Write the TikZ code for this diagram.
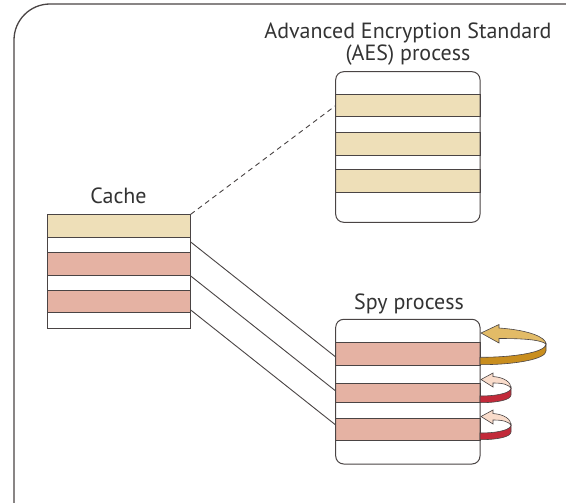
\documentclass[tikz,border=0pt]{standalone}
\usepackage{fontspec}
\setmainfont{PT Sans}
\usetikzlibrary{calc}
\definecolor{aesbeige}{HTML}{EEDFB8}
\definecolor{spypink}{HTML}{E5B2A3}
\definecolor{edgegray}{HTML}{4A4444}
\definecolor{goldlight}{HTML}{E2BB67}
\definecolor{golddark}{HTML}{C98E1E}
\definecolor{redlight}{HTML}{F9DCCB}
\definecolor{reddark}{HTML}{C22A3A}
\tikzset{
    band/.style={draw=edgegray, line width=1pt, inner sep=0pt, outer sep=0pt,
        minimum width=144.3pt, anchor=north west},
    procbox/.style={band, draw=none, rounded corners=8pt},
    bigloop/.pic={
        % Light top face with the head
        \fill[goldlight, draw=edgegray, line width=0.6pt] (0,0) -- (18,-8.5) -- (18,-5)
            .. controls (47,-3) and (65,4) .. (65,11)
            .. controls (60,7) and (45,5.5) .. (18,5.5) -- (18,10) -- cycle;
        % Dark outer face
        \fill[golddark, draw=edgegray, line width=0.6pt] (-1,24.3)
            .. controls (35,24.3) and (65,19) .. (65,11) -- (65,18)
            .. controls (65,26) and (35,31.7) .. (-1,31.7) -- cycle;
    },
    smallloop/.pic={
        % Light top face with the head
        \fill[redlight, draw=edgegray, line width=0.6pt] (0,0) -- (12,-6.5) -- (12,-3)
            .. controls (24,-2) and (30,3) .. (30,8.5)
            .. controls (27,5) and (22,3.5) .. (12,3.5) -- (12,7.5) -- cycle;
        % Dark outer face
        \fill[reddark, draw=edgegray, line width=0.6pt] (-1,16.5)
            .. controls (18,16.5) and (30,13) .. (30,8.5) -- (30,15.5)
            .. controls (30,20) and (18,23.2) .. (-1,23.2) -- cycle;
    }
}
\begin{document}
\begin{tikzpicture}[x=1pt, y=-1pt, font=\fontsize{22}{22}\selectfont, text=black!80]
    \useasboundingbox (0,0) rectangle (566,503);
    % Frame
    \draw[edgegray, line width=1.3pt, rounded corners=36pt] (14,503) -- (14,4) -- (566,4);

    % Cache
    \node[band, minimum width=143.4pt, minimum height=114pt] (cache) at (47.3,214.3) {};
    \foreach \i/\t/\h/\c in {1/214.3/23/aesbeige, 2/252.7/22.3/spypink, 3/290/22.3/spypink}
        \node[band, minimum width=143.4pt, minimum height=\h, fill=\c] (cache\i) at (47.3,\t) {};
    \node (cachelabel) at (118.5,196) {Cache};

    % AES process
    \node[procbox, minimum height=150.6pt] (aes) at (335.7,71.7) {};
    \foreach \i/\t in {1/94.3, 2/132.7, 3/170}
        \node[band, minimum height=22.5pt, fill=aesbeige] (aes\i) at (335.7,\t) {};
    \draw[edgegray, line width=1pt, rounded corners=8pt] (aes.north west) rectangle (aes.south east);
    \node[align=center] (aeslabel) at (408,44) {Advanced Encryption Standard\\(AES) process};

    % Spy process
    \node[procbox, minimum height=144.7pt] (spy) at (335.7,319.3) {};
    \foreach \i/\t/\h in {1/342.3/23, 2/383.3/19.4, 3/418.3/21.7}
        \node[band, minimum height=\h, fill=spypink] (spy\i) at (335.7,\t) {};
    \draw[edgegray, line width=1pt, rounded corners=8pt] (spy.north west) rectangle (spy.south east);
    \node (spylabel) at (409,304) {Spy process};

    % Cache lines to the processes
    \draw[edgegray, line width=0.9pt, dash pattern=on 5pt off 4pt] (cache.north east) -- (aes1.west);
    \foreach \i in {1,2,3}
        \draw[edgegray, line width=0.9pt] ($(cache.north east)+(0,{27.7+34*(\i-1)})$)
            -- ($(spy.north west)+(0,{37.7+34*(\i-1)})$);

    % Reload arrows
    \pic (loop1) at (481,333) {bigloop};
    \pic (loop2) at (481,379.5) {smallloop};
    \pic (loop3) at (481,416.5) {smallloop};
\end{tikzpicture}
\end{document}
